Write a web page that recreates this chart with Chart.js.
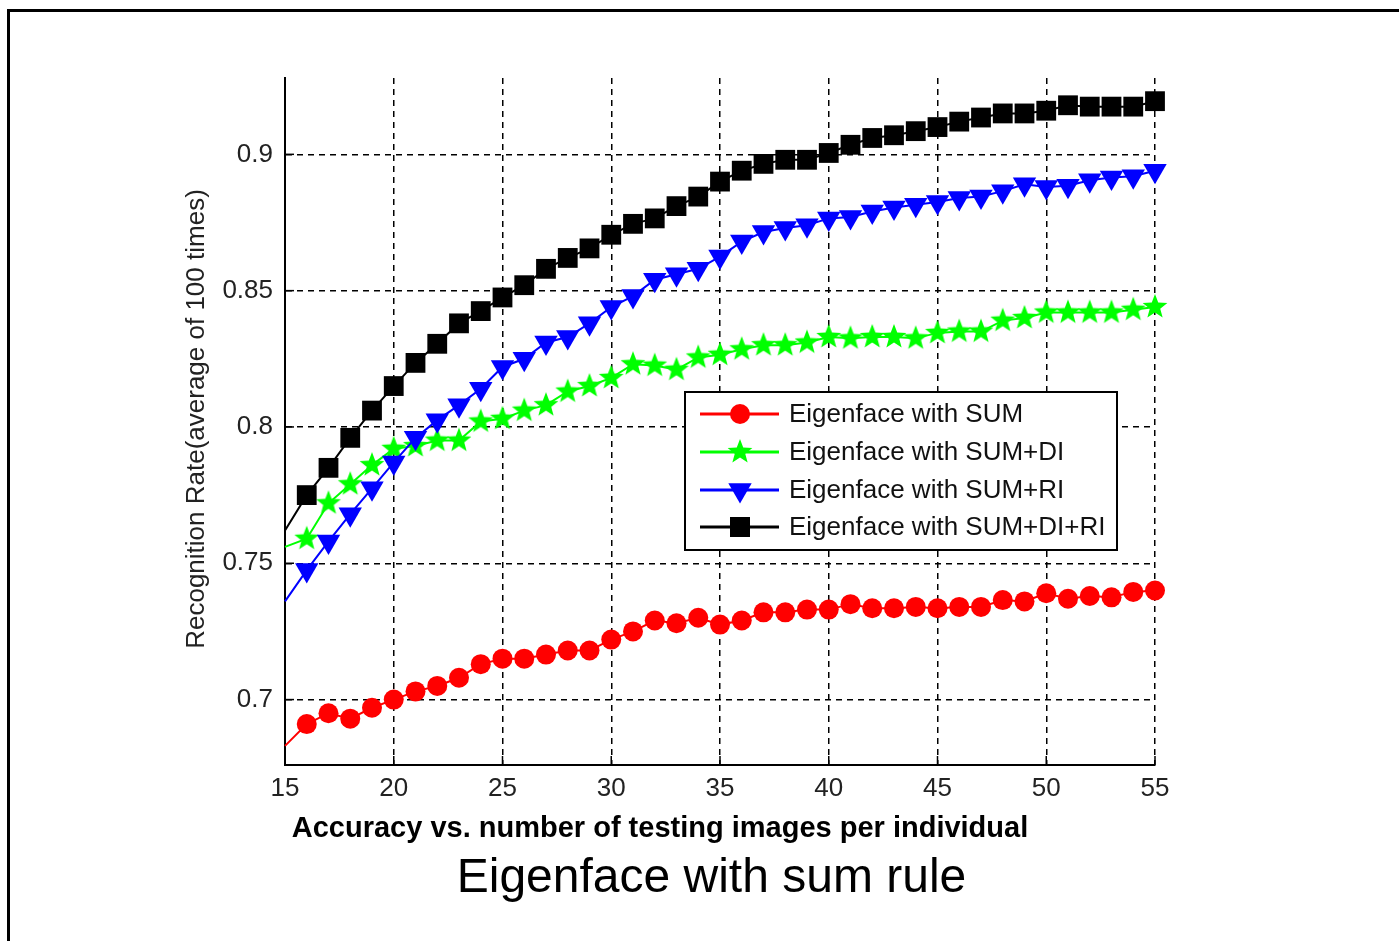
<!DOCTYPE html>
<html>
<head>
<meta charset="utf-8">
<script src="https://cdn.jsdelivr.net/npm/chart.js@4.4.1/dist/chart.umd.min.js"></script>
<style>
  html, body { margin: 0; padding: 0; background: #fff; }
  #wrap { position: relative; width: 1399px; height: 941px; overflow: hidden; }
  #frame { position: absolute; left: 7px; top: 9px; width: 1500px; height: 1000px;
           border-top: 3px solid #000; border-left: 3px solid #000; }
  #chart { position: absolute; left: 0; top: 0; }
  .cap { position: absolute; left: 0; text-align: center; color: #000;
         font-family: "Liberation Sans", Arial, sans-serif; line-height: 1; white-space: nowrap; }
  #cap1 { width: 1320px; top: 813px; font-size: 29px; font-weight: bold; }
  #cap2 { width: 1423px; top: 852px; font-size: 48px; }
</style>
</head>
<body>
<div id="wrap">
  <div id="frame"></div>
  <canvas id="chart" width="1399" height="941"></canvas>
  <div class="cap" id="cap1">Accuracy vs. number of testing images per individual</div>
  <div class="cap" id="cap2">Eigenface with sum rule</div>
</div>
<script>
// number of testing images per individual
const testImages = [15, 16, 17, 18, 19, 20, 21, 22, 23, 24, 25, 26, 27, 28, 29, 30, 31, 32, 33, 34, 35,
                    36, 37, 38, 39, 40, 41, 42, 43, 44, 45, 46, 47, 48, 49, 50, 51, 52, 53, 54, 55];

const sumRate = [0.683, 0.691, 0.695, 0.693, 0.697, 0.700, 0.703, 0.705, 0.708, 0.713, 0.715,
                 0.715, 0.7165, 0.718, 0.718, 0.722, 0.725, 0.729, 0.728, 0.730, 0.7275,
                 0.729, 0.732, 0.732, 0.733, 0.733, 0.735, 0.7335, 0.7335, 0.734, 0.7335,
                 0.734, 0.734, 0.7365, 0.736, 0.739, 0.737, 0.738, 0.7375, 0.7395, 0.740];

const sumDiRate = [0.756, 0.759, 0.772, 0.779, 0.786, 0.792, 0.793, 0.795, 0.795, 0.802, 0.803,
                   0.806, 0.808, 0.813, 0.815, 0.818, 0.823, 0.8225, 0.821, 0.8255, 0.8265,
                   0.8285, 0.830, 0.830, 0.831, 0.833, 0.8325, 0.833, 0.833, 0.8325, 0.8345,
                   0.835, 0.835, 0.839, 0.840, 0.842, 0.842, 0.842, 0.842, 0.843, 0.844];

const sumRiRate = [0.736, 0.7475, 0.758, 0.768, 0.7775, 0.787, 0.796, 0.8025, 0.808, 0.814, 0.822,
                   0.825, 0.831, 0.833, 0.838, 0.844, 0.848, 0.854, 0.856, 0.858, 0.8625,
                   0.868, 0.8715, 0.873, 0.874, 0.8765, 0.877, 0.879, 0.8805, 0.8815, 0.8825,
                   0.884, 0.8845, 0.8865, 0.889, 0.888, 0.8885, 0.8905, 0.8915, 0.892, 0.894];

const sumDiRiRate = [0.762, 0.775, 0.785, 0.796, 0.806, 0.815, 0.8235, 0.8305, 0.838, 0.8425, 0.8475,
                     0.852, 0.858, 0.862, 0.8655, 0.8705, 0.8745, 0.8765, 0.881, 0.8845, 0.890,
                     0.894, 0.8965, 0.898, 0.898, 0.9005, 0.9035, 0.906, 0.907, 0.9085, 0.910,
                     0.912, 0.9135, 0.915, 0.915, 0.916, 0.918, 0.9175, 0.9175, 0.9175, 0.9195];

const xTicks = [15, 20, 25, 30, 35, 40, 45, 50, 55];
const yTicks = [0.7, 0.75, 0.8, 0.85, 0.9];
const seriesNames = ['Eigenface with SUM', 'Eigenface with SUM+DI', 'Eigenface with SUM+RI', 'Eigenface with SUM+DI+RI'];

const FONT = '"Liberation Sans", Arial, sans-serif';

// filled five point star for the green series
function makeStar(color, outer, inner) {
  const size = Math.ceil(outer * 2 + 2);
  const c = document.createElement('canvas');
  c.width = size; c.height = size;
  const g = c.getContext('2d');
  g.fillStyle = color;
  g.beginPath();
  for (let i = 0; i < 10; i++) {
    const r = i % 2 === 0 ? outer : inner;
    const a = -Math.PI / 2 + i * Math.PI / 5;
    const px = size / 2 + r * Math.cos(a), py = size / 2 + r * Math.sin(a);
    if (i === 0) g.moveTo(px, py); else g.lineTo(px, py);
  }
  g.closePath();
  g.fill();
  return c;
}
const greenStar = makeStar('#00ff00', 13, 5.5);

function pts(values) {
  return values.map((v, i) => ({ x: testImages[i], y: v }));
}
// first sample (x = 15) is drawn without a marker
const noFirst = r => ctx => ctx.dataIndex === 0 ? 0 : r;

const datasets = [
  { label: seriesNames[0], data: pts(sumRate), borderColor: '#ff0000', backgroundColor: '#ff0000',
    pointStyle: 'circle', pointRadius: noFirst(10), order: 3 },
  { label: seriesNames[1], data: pts(sumDiRate), borderColor: '#00ff00', backgroundColor: '#00ff00',
    pointStyle: greenStar, pointRadius: noFirst(12), order: 2 },
  { label: seriesNames[2], data: pts(sumRiRate), borderColor: '#0000ff', backgroundColor: '#0000ff',
    pointStyle: 'triangle', pointRotation: 180, pointRadius: noFirst(13.5), order: 1 },
  { label: seriesNames[3], data: pts(sumDiRiRate), borderColor: '#000000', backgroundColor: '#000000',
    pointStyle: 'rect', pointRadius: noFirst(14), order: 0 }
];
datasets.forEach(d => {
  d.borderWidth = 2;
  d.pointBorderWidth = 0;
  d.pointHoverRadius = d.pointRadius;
  d.tension = 0;
  d.fill = false;
  d.clip = false;
});

function drawMarker(c, idx, x, y) {
  c.save();
  if (idx === 0) {
    c.fillStyle = '#ff0000';
    c.beginPath(); c.arc(x, y, 10, 0, Math.PI * 2); c.fill();
  } else if (idx === 1) {
    c.drawImage(greenStar, x - greenStar.width / 2, y - greenStar.height / 2);
  } else if (idx === 2) {
    c.fillStyle = '#0000ff';
    const r = 13.5;
    c.beginPath();
    c.moveTo(x, y + r);
    c.lineTo(x - r * Math.sin(Math.PI / 3), y - r / 2);
    c.lineTo(x + r * Math.sin(Math.PI / 3), y - r / 2);
    c.closePath(); c.fill();
  } else {
    c.fillStyle = '#000000';
    c.fillRect(x - 10, y - 10, 20, 20);
  }
  c.restore();
}

const extras = {
  id: 'extras',
  afterDraw(chart) {
    const c = chart.ctx;
    const xs = chart.scales.x, ys = chart.scales.y;
    const area = chart.chartArea;

    // inward tick marks
    c.save();
    c.strokeStyle = '#000';
    c.lineWidth = 1.5;
    c.setLineDash([]);
    xTicks.forEach(t => {
      const px = xs.getPixelForValue(t);
      c.beginPath(); c.moveTo(px, area.bottom); c.lineTo(px, area.bottom - 9); c.stroke();
    });
    yTicks.forEach(t => {
      const py = ys.getPixelForValue(t);
      c.beginPath(); c.moveTo(area.left, py); c.lineTo(area.left + 9, py); c.stroke();
    });
    c.restore();

    // y axis title
    c.save();
    c.translate(197, 419);
    c.rotate(-Math.PI / 2);
    c.fillStyle = '#222';
    c.font = '26px ' + FONT;
    c.textAlign = 'center';
    c.textBaseline = 'middle';
    c.fillText('Recognition Rate(average of 100 times)', 0, 0);
    c.restore();

    // legend box
    const lx = 685, ly = 392, lw = 432, lh = 158;
    c.save();
    c.fillStyle = '#fff';
    c.fillRect(lx, ly, lw, lh);
    c.strokeStyle = '#000';
    c.lineWidth = 2;
    c.strokeRect(lx, ly, lw, lh);
    const rows = [414, 452, 490, 527];
    const colors = ['#ff0000', '#00ff00', '#0000ff', '#000000'];
    rows.forEach((ry, i) => {
      c.strokeStyle = colors[i];
      c.lineWidth = 3;
      c.beginPath(); c.moveTo(700, ry); c.lineTo(779, ry); c.stroke();
      drawMarker(c, i, 740, ry);
      c.fillStyle = '#111';
      c.font = '26px ' + FONT;
      c.textAlign = 'left';
      c.textBaseline = 'middle';
      c.fillText(seriesNames[i], 789, ry + 1);
    });
    c.restore();
  }
};

new Chart(document.getElementById('chart'), {
  type: 'line',
  data: { datasets: datasets },
  options: {
    responsive: false,
    animation: false,
    events: [],
    layout: { padding: { left: 0, top: 78, right: 244, bottom: 0 } },
    plugins: { legend: { display: false }, tooltip: { enabled: false } },
    scales: {
      x: {
        type: 'linear', min: 15, max: 55,
        afterBuildTicks: s => { s.ticks = xTicks.map(v => ({ value: v })); },
        afterFit: s => { s.height = 176; },
        grid: { color: '#000', lineWidth: 1.5, drawTicks: false },
        border: { display: true, color: '#000', width: 2, dash: [6, 5] },
        ticks: { color: '#222', font: { family: FONT, size: 26 }, padding: 8, maxRotation: 0,
                 callback: v => String(v) }
      },
      y: {
        type: 'linear', min: 0.676, max: 0.928,
        afterBuildTicks: s => { s.ticks = yTicks.map(v => ({ value: v })); },
        afterFit: s => { s.width = 285; },
        grid: { color: '#000', lineWidth: 1.5, drawTicks: false },
        border: { display: true, color: '#000', width: 2, dash: [6, 5] },
        ticks: { color: '#222', font: { family: FONT, size: 26 }, padding: 12,
                 callback: v => String(v) }
      }
    }
  },
  plugins: [extras]
});
</script>
</body>
</html>
